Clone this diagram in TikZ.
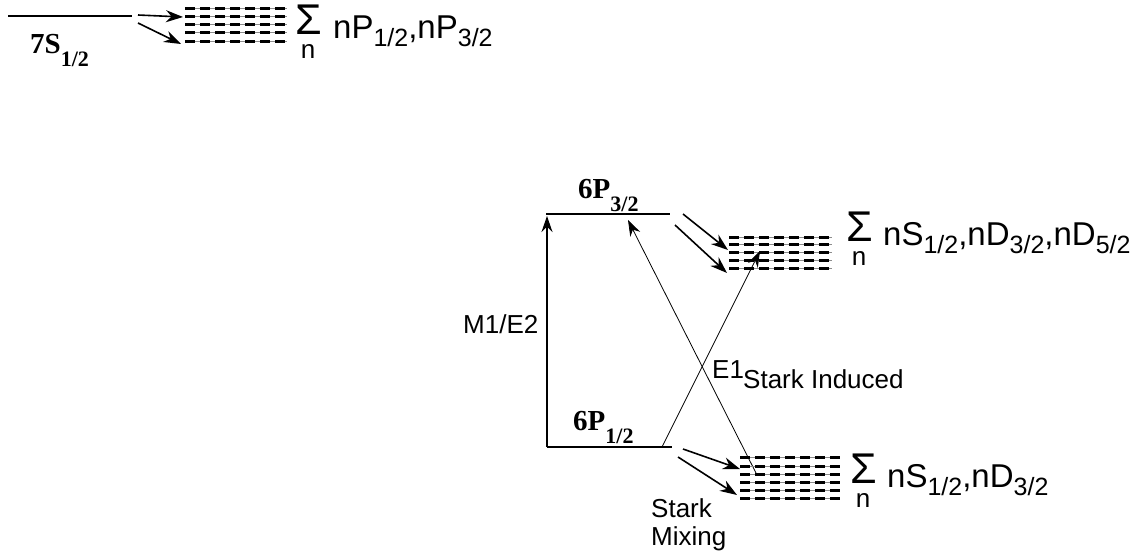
\documentclass[tikz,border=0pt]{standalone}
\usepackage{fontspec}
\setmainfont{Liberation Serif}
\setsansfont{Liberation Sans}
\usetikzlibrary{arrows.meta}
\newcommand\lsub[1]{\raisebox{-0.25em}{\fontsize{25}{27}\selectfont #1}}
\newcommand\bsub[1]{\raisebox{-0.45em}{\fontsize{22}{24}\selectfont\bfseries #1}}
\begin{document}
\begin{tikzpicture}[x=1pt,y=-1pt,
  level/.style={line width=2.6pt},
  rowthin/.style={line width=1pt, black!45},
  rowdash/.style={line width=3pt, dash pattern=on 10pt off 5pt},
  decay/.style={line width=1.6pt, -{Stealth[length=17pt,width=12pt]}},
  cross/.style={line width=0.8pt, -{Stealth[length=16pt,width=11pt]}},
  lab/.style={font=\fontsize{26}{30}\selectfont\sffamily, inner sep=0pt},
  big/.style={font=\fontsize{33}{36}\selectfont\sffamily, inner sep=0pt},
  sigma/.style={font=\fontsize{43}{43}\selectfont\sffamily, inner sep=0pt, text depth=0pt},
  lev/.style={font=\fontsize{29}{32}\selectfont\bfseries, inner sep=0pt}]
\useasboundingbox[fill=white] (0,0) rectangle (1144,557);

% ---- 7S level (top) ----
\coordinate (s7L) at (8,16); \coordinate (s7R) at (132,16);
\draw[level] (s7L) -- (s7R);
\node[lev, anchor=base west] (l7s) at (30,53) {7S\bsub{1/2}};
\coordinate (a1s) at (138,15); \coordinate (a1e) at (183,17);
\coordinate (a2s) at (138,23); \coordinate (a2e) at (181,44);
\draw[decay] (a1s) -- (a1e);
\draw[decay] (a2s) -- (a2e);
\foreach \y in {8,16,24,32,41}{
  \draw[rowthin] (185,\y) -- (287,\y);
  \draw[rowdash] (185,\y) -- (287,\y);}
\node[sigma, anchor=base east] (sig1) at (322,34) {Σ};
\node[lab, anchor=base] (n1) at (308,58) {n};
\node[big, anchor=base west] (t1) at (333,38) {nP\lsub{1/2},nP\lsub{3/2}};

% ---- 6P3/2 level ----
\coordinate (p3L) at (546,214); \coordinate (p3R) at (670,214);
\draw[level] (p3L) -- (p3R);
\node[lev, anchor=base west] (l6p3) at (578,198) {6P\bsub{3/2}};
\coordinate (b1s) at (683,214); \coordinate (b1e) at (728,250);
\coordinate (b2s) at (675,225); \coordinate (b2e) at (727,273);
\draw[decay] (b1s) -- (b1e);
\draw[decay] (b2s) -- (b2e);
\foreach \y in {237,244,252,260,268}{
  \draw[rowthin] (729,\y) -- (832,\y);
  \draw[rowdash] (729,\y) -- (832,\y);}
\node[sigma, anchor=base east] (sig2) at (873,241) {Σ};
\node[lab, anchor=base] (n2) at (859,265) {n};
\node[big, anchor=base west] (t2) at (883,245) {nS\lsub{1/2},nD\lsub{3/2},nD\lsub{5/2}};

% ---- 6P1/2 level ----
\coordinate (p1L) at (547,447); \coordinate (p1R) at (672,447);
\draw[level] (p1L) -- (p1R);
\node[lev, anchor=base west] (l6p1) at (573,430) {6P\bsub{1/2}};
\coordinate (m1top) at (547,216);
\draw[line width=1.2pt, -{Stealth[length=16pt,width=11pt]}] (p1L) -- (m1top);
\node[lab, anchor=base west] (m1) at (463,333) {M1/E2};

% crossing Stark-induced E1 lines
\coordinate (xa1) at (662,447); \coordinate (xa2) at (760,251);
\coordinate (xb1) at (757,475); \coordinate (xb2) at (628,220);
\draw[cross] (xa1) -- (xa2);
\draw[cross] (xb1) -- (xb2);
\node[lab, anchor=base west] (e1) at (712,378) {E1};
\node[lab, anchor=base west] (si) at (743,388) {Stark Induced};

% Stark mixing
\coordinate (c1s) at (683,449); \coordinate (c1e) at (740,469);
\coordinate (c2s) at (678,457); \coordinate (c2e) at (737,495);
\draw[decay] (c1s) -- (c1e);
\draw[decay] (c2s) -- (c2e);
\foreach \y in {457,466,474,482,490,498}{
  \draw[rowthin] (740,\y) -- (840,\y);
  \draw[rowdash] (740,\y) -- (840,\y);}
\node[sigma, anchor=base east] (sig3) at (877,483) {Σ};
\node[lab, anchor=base] (n3) at (863,507) {n};
\node[big, anchor=base west] (t3) at (887,487) {nS\lsub{1/2},nD\lsub{3/2}};
\node[lab, anchor=base west] (sm1) at (651,517) {Stark};
\node[lab, anchor=base west] (sm2) at (651,545) {Mixing};
\end{tikzpicture}
\end{document}
